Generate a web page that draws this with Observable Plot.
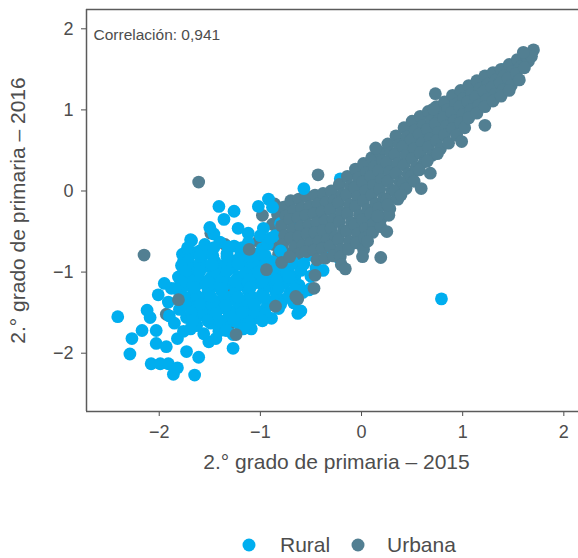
<!DOCTYPE html>
<html>
<head>
<meta charset="utf-8">
<script src="https://cdn.jsdelivr.net/npm/d3@7"></script>
<script src="https://cdn.jsdelivr.net/npm/@observablehq/plot@0.6"></script>
<style>
  body { margin: 0; background: #fff; font-family: "Liberation Sans", Arial, sans-serif; }
  #chart svg { display: block; }
</style>
</head>
<body>
<div id="chart"></div>
<script>
// ---- data (2015 score, 2016 score) ----
const grupos = ["Rural", "Urbana"];
const colores = ["#00aeef", "#527f92"];
const xTicks = [-2, -1, 0, 1, 2];
const yTicks = [-2, -1, 0, 1, 2];
const tickLabels = ["−2", "−1", "0", "1", "2"];
const correlacion = "Correlación: 0,941";
const tituloX = "2.° grado de primaria – 2015";
const tituloY = "2.° grado de primaria – 2016";

// urban schools lying inside the rural cloud (drawn beneath it)
const urbanaBajo = [
  [-2.15,-0.79],[-1.61,0.11],[-1.49,-0.52],[-1.35,-0.66],
  [-1.93,-1.52],[-1.31,-1.65],[-1.60,-1.40],[-1.30,-1.20],[-1.05,-1.10],[-1.02,-0.62],
  [-1.40,-0.95],[-0.98,-0.30],
  [-0.86,-0.16],[-0.83,-0.29],[-0.88,-0.41],[-0.84,-0.53],[-0.87,-0.66],[-0.82,-0.78],[-0.86,-0.90]
];

const rural = [
  // outer points
  [-2.41,-1.55],[-2.29,-2.01],[-2.27,-1.82],[-2.17,-1.72],[-2.12,-1.47],[-2.09,-1.56],
  [-2.08,-2.13],[-2.03,-1.72],[-2.03,-1.88],[-2.01,-1.28],[-1.99,-2.13],[-1.95,-1.14],
  [-1.93,-1.92],[-1.91,-2.13],[-1.91,-1.37],[-1.90,-1.54],[-1.88,-1.20],[-1.86,-2.26],
  [-1.85,-1.63],[-1.82,-2.18],[-1.82,-1.82],[-1.77,-0.78],[-1.76,-0.86],[-1.76,-1.73],
  [-1.74,-1.02],[-1.73,-1.98],[-1.68,-0.61],[-1.65,-2.27],[-1.61,-2.05],[-1.60,-0.74],
  [-1.51,-1.86],[-1.46,-0.53],[-1.44,-1.82],[-1.41,-0.19],[-1.36,-0.35],[-1.27,-1.94],
  [-1.26,-0.25],[-1.22,-0.46],[-1.12,-0.52],[-1.09,-1.70],[-1.06,-1.57],[-1.02,-0.19],
  [-0.97,-0.46],[-0.92,-0.10],[-0.63,-1.51],
  [-0.60,-1.48],[-0.50,-1.20],[-0.82,-1.36],[-1.00,-0.55],[-0.85,-0.55],
  [-1.69,-0.60],[-1.50,-0.45],[0.79,-1.33],
  // dense core
  [-1.55,-0.66],[-1.40,-0.63],[-1.26,-0.68],[-1.12,-0.64],
  [-1.66,-0.76],[-1.51,-0.73],[-1.33,-0.77],[-1.19,-0.74],[-1.04,-0.78],
  [-1.71,-0.86],[-1.58,-0.83],[-1.45,-0.87],[-1.31,-0.84],[-1.16,-0.88],[-1.01,-0.85],[-0.88,-0.87],
  [-1.67,-0.96],[-1.53,-0.93],[-1.40,-0.97],[-1.27,-0.94],[-1.13,-0.96],[-0.99,-0.93],[-0.85,-0.97],[-0.72,-0.95],
  [-1.81,-1.06],[-1.63,-1.03],[-1.49,-1.07],[-1.36,-1.04],[-1.22,-1.06],[-1.08,-1.03],[-0.95,-1.07],[-0.80,-1.04],[-0.66,-1.06],
  [-1.73,-1.16],[-1.59,-1.13],[-1.45,-1.17],[-1.31,-1.14],[-1.18,-1.16],[-1.04,-1.13],[-0.91,-1.17],[-0.77,-1.14],[-0.62,-1.16],
  [-1.79,-1.26],[-1.66,-1.23],[-1.52,-1.27],[-1.38,-1.24],[-1.25,-1.26],[-1.12,-1.23],[-0.98,-1.27],[-0.85,-1.24],[-0.71,-1.26],[-0.58,-1.25],
  [-1.70,-1.36],[-1.57,-1.33],[-1.43,-1.37],[-1.30,-1.34],[-1.16,-1.36],[-1.03,-1.33],[-0.90,-1.37],[-0.78,-1.34],[-0.67,-1.38],
  [-1.80,-1.46],[-1.65,-1.43],[-1.51,-1.47],[-1.37,-1.44],[-1.23,-1.46],[-1.10,-1.43],[-0.96,-1.47],[-0.82,-1.45],
  [-1.73,-1.56],[-1.59,-1.53],[-1.45,-1.57],[-1.31,-1.54],[-1.17,-1.56],[-1.03,-1.53],[-0.89,-1.57],
  [-1.63,-1.66],[-1.49,-1.63],[-1.35,-1.67],[-1.21,-1.64],
  [-1.56,-1.76],[-1.41,-1.73],[-1.27,-1.77],
  [-1.47,-0.80],[-1.20,-0.81],[-1.60,-0.90],[-1.34,-0.90],[-1.06,-0.91],[-1.46,-1.00],[-1.15,-1.01],
  [-0.88,-1.01],[-1.66,-1.10],[-1.38,-1.10],[-1.11,-1.09],[-0.84,-1.10],[-1.52,-1.20],[-1.24,-1.19],
  [-0.96,-1.20],[-1.62,-1.30],[-1.36,-1.29],[-1.09,-1.30],[-0.84,-1.30],[-1.48,-1.40],[-1.20,-1.40],
  [-0.93,-1.41],[-1.58,-1.50],[-1.30,-1.50],[-1.07,-1.50],[-1.40,-1.60],[-1.12,-1.61],
  [-1.72,-0.70],[-1.46,-0.70],[-1.32,-0.69],[-1.18,-0.70],[-0.98,-0.71],
  [-1.60,-0.80],[-1.33,-0.81],[-1.10,-0.80],[-0.95,-0.80],
  [-1.78,-0.92],[-1.48,-0.91],[-1.22,-0.90],[-0.93,-0.90],[-0.78,-0.92],
  [-1.74,-0.99],[-1.60,-1.00],[-1.33,-0.99],[-1.02,-1.00],[-0.74,-1.01],
  [-1.78,-1.12],[-1.52,-1.11],[-1.25,-1.11],[-0.98,-1.12],[-0.70,-1.10],
  [-1.84,-1.20],[-1.65,-1.19],[-1.38,-1.20],[-1.10,-1.19],[-0.82,-1.20],[-0.66,-1.21],
  [-1.75,-1.31],[-1.49,-1.30],[-1.22,-1.31],[-0.96,-1.31],[-0.72,-1.31],
  [-1.74,-1.41],[-1.60,-1.40],[-1.34,-1.41],[-1.06,-1.40],[-0.80,-1.40],
  [-1.68,-1.50],[-1.44,-1.51],[-1.18,-1.50],[-0.95,-1.52],
  [-1.67,-1.60],[-1.52,-1.60],[-1.26,-1.60],[-0.98,-1.60],
  [-1.69,-1.70],[-1.34,-1.72],[-1.17,-1.70],
  // rural schools hidden in the urban band
  [0.19,0.33],[-0.22,-0.83],[-0.50,-0.79],[1.41,1.50],
  [-0.30,-0.55],[-0.66,-0.35],[-0.80,-0.40],[-0.45,-0.95],[-0.36,-0.70]
];

// rural schools partly covered by the urban band
const ruralMedio = [[-0.21,0.15],[0.09,-0.30]];

const urbana = [
  [-0.77,-0.20],[-0.75,-0.31],[-0.79,-0.43],[-0.76,-0.55],[-0.78,-0.66],[-0.74,-0.77],
  [-0.70,-0.12],[-0.67,-0.24],[-0.71,-0.35],[-0.68,-0.47],[-0.70,-0.58],[-0.66,-0.69],
  [-0.62,-0.10],[-0.59,-0.21],[-0.63,-0.33],[-0.60,-0.44],[-0.62,-0.56],[-0.58,-0.67],[-0.63,-0.78],
  [-0.54,-0.07],[-0.51,-0.19],[-0.55,-0.30],[-0.52,-0.42],[-0.54,-0.53],[-0.50,-0.64],[-0.55,-0.75],
  [-0.46,-0.05],[-0.43,-0.16],[-0.47,-0.28],[-0.44,-0.39],[-0.46,-0.51],[-0.42,-0.62],[-0.47,-0.73],[-0.44,-0.85],
  [-0.38,-0.03],[-0.35,-0.14],[-0.39,-0.26],[-0.36,-0.37],[-0.38,-0.49],[-0.34,-0.60],[-0.39,-0.71],[-0.36,-0.83],
  [-0.30,0.00],[-0.27,-0.12],[-0.31,-0.23],[-0.28,-0.35],[-0.30,-0.46],[-0.26,-0.57],[-0.31,-0.68],[-0.28,-0.80],
  [-0.22,0.08],[-0.19,-0.04],[-0.23,-0.15],[-0.20,-0.27],[-0.22,-0.38],[-0.18,-0.49],[-0.23,-0.60],[-0.20,-0.72],[-0.21,-0.81],
  [-0.14,0.18],[-0.11,0.06],[-0.15,-0.05],[-0.12,-0.17],[-0.14,-0.28],[-0.10,-0.39],[-0.15,-0.50],[-0.12,-0.62],[-0.13,-0.72],
  [-0.06,0.27],[-0.03,0.16],[-0.07,0.04],[-0.04,-0.07],[-0.06,-0.19],[-0.02,-0.30],[-0.07,-0.42],[-0.04,-0.53],[-0.05,-0.64],
  [0.02,0.34],[0.05,0.23],[0.01,0.11],[0.04,0.00],[0.02,-0.12],[0.06,-0.23],[0.01,-0.35],[0.04,-0.46],[0.03,-0.58],
  [0.10,0.41],[0.13,0.30],[0.09,0.18],[0.12,0.07],[0.10,-0.05],[0.14,-0.16],[0.09,-0.28],[0.12,-0.40],[0.11,-0.51],
  [0.18,0.48],[0.21,0.37],[0.17,0.25],[0.20,0.14],[0.18,0.02],[0.22,-0.09],[0.17,-0.21],[0.20,-0.33],[0.19,-0.44],
  [0.26,0.58],[0.29,0.47],[0.25,0.35],[0.28,0.24],[0.26,0.12],[0.30,0.01],[0.25,-0.11],[0.28,-0.22],[0.27,-0.30],
  [0.34,0.68],[0.37,0.57],[0.33,0.45],[0.36,0.34],[0.34,0.22],[0.38,0.11],[0.33,0.00],[0.36,-0.10],
  [0.42,0.78],[0.45,0.67],[0.41,0.55],[0.44,0.44],[0.42,0.32],[0.46,0.21],[0.41,0.10],[0.44,0.03],
  [0.50,0.86],[0.53,0.75],[0.49,0.63],[0.52,0.52],[0.50,0.40],[0.54,0.29],[0.49,0.18],[0.52,0.12],
  [0.58,0.92],[0.61,0.81],[0.57,0.70],[0.60,0.59],[0.58,0.47],[0.62,0.36],[0.57,0.26],
  [0.66,0.98],[0.69,0.87],[0.65,0.76],[0.68,0.65],[0.66,0.54],[0.70,0.44],[0.65,0.37],
  [0.74,1.04],[0.77,0.94],[0.73,0.83],[0.76,0.72],[0.74,0.62],[0.78,0.52],[0.75,0.46],
  [0.82,1.10],[0.85,1.00],[0.81,0.90],[0.84,0.80],[0.82,0.69],[0.86,0.59],
  [0.90,1.18],[0.93,1.07],[0.89,0.97],[0.92,0.87],[0.90,0.77],[0.94,0.69],
  [0.98,1.24],[1.01,1.14],[0.97,1.04],[1.00,0.94],[0.98,0.84],[1.02,0.78],
  [1.06,1.30],[1.09,1.20],[1.05,1.10],[1.08,1.00],[1.06,0.90],
  [1.14,1.36],[1.17,1.26],[1.13,1.16],[1.16,1.06],[1.14,0.96],
  [1.22,1.42],[1.25,1.32],[1.21,1.23],[1.24,1.13],[1.22,1.04],
  [1.30,1.46],[1.33,1.37],[1.29,1.28],[1.32,1.19],[1.30,1.11],
  [1.38,1.50],[1.41,1.42],[1.37,1.33],[1.40,1.25],[1.38,1.17],
  [1.46,1.56],[1.49,1.47],[1.45,1.39],[1.48,1.30],[1.46,1.24],
  [1.54,1.62],[1.57,1.53],[1.53,1.45],[1.56,1.37],
  [1.62,1.68],[1.65,1.60],[1.61,1.52],
  [1.70,1.74],[1.68,1.66],[1.60,1.71],
  // outliers
  [0.73,1.20],[0.71,1.01],[1.22,0.81],[0.99,0.61],[0.59,0.03],[0.68,0.22],[0.14,0.53],
  [-0.43,0.20],[0.39,-0.05],[0.26,-0.17],[0.16,-0.31],[0.25,-0.50],[0.19,-0.82],[0.02,-0.72],
  [0.06,-0.62],[0.01,-0.81],[-0.20,-0.91],[-0.16,-0.96]
];

// rural schools drawn on top (edge of the urban band)
const ruralEncima = [
  [-0.74,-0.84],[-0.93,-0.66],[-0.50,-1.05],[-0.52,-1.22],[-0.60,-0.98],[-0.68,-0.88],
  [-0.80,-0.74],[-0.90,-0.58],[-0.72,-1.06],[-0.57,-0.90],[-0.57,0.03],
  [-0.88,-0.20],[-0.38,-0.98]
];

// urban schools drawn on top of the rural cloud
const urbanaEncima = [
  [-1.11,-0.72],[-0.94,-0.97],[-0.85,-1.42],[-1.24,-1.77],[-0.63,-1.33],[-0.47,-1.20],
  [-0.65,-1.30],[-0.79,-0.88],[-0.71,-0.81],[-0.46,-1.04],[-1.81,-1.34]
];

// ---- build table (drawing order) ----
const filas = [
  ...urbanaBajo.map(([x, y]) => ({x, y, g: grupos[1]})),
  ...rural.map(([x, y]) => ({x, y, g: grupos[0]})),
  ...ruralMedio.map(([x, y]) => ({x, y, g: grupos[0]})),
  ...urbana.map(([x, y]) => ({x, y, g: grupos[1]})),
  ...ruralEncima.map(([x, y]) => ({x, y, g: grupos[0]})),
  ...urbanaEncima.map(([x, y]) => ({x, y, g: grupos[1]}))
];

const xDom = [-2.719, 2.145];
const yDom = [-2.719, 2.238];
const axisColor = "#5b5b5b";
const textColor = "#4d4d4d";

const plot = Plot.plot({
  width: 578,
  height: 490,
  marginLeft: 86,
  marginTop: 9,
  marginRight: 0,
  marginBottom: 79,
  style: {fontFamily: "'Liberation Sans', Arial, sans-serif", fontSize: "18px", color: textColor, background: "white", overflow: "visible"},
  x: {domain: xDom, ticks: xTicks, tickFormat: d => tickLabels[xTicks.indexOf(d)], tickSize: 5, tickPadding: 9, label: null},
  y: {domain: yDom, ticks: yTicks, tickFormat: d => tickLabels[yTicks.indexOf(d)], tickSize: 5, tickPadding: 8, label: null},
  color: {domain: grupos, range: colores},
  marks: [
    Plot.dot(filas, {x: "x", y: "y", fill: "g", r: 6.4, stroke: null}),
    Plot.ruleX([xDom[0]], {stroke: axisColor, strokeWidth: 1.5}),
    Plot.ruleY([yDom[0], yDom[1]], {stroke: axisColor, strokeWidth: 1.5}),
    Plot.text([correlacion], {frameAnchor: "top-left", dx: 7, dy: 19, textAnchor: "start", fontSize: 15.5, fill: textColor}),
    Plot.text([tituloX], {frameAnchor: "bottom", dx: 4, dy: 57, textAnchor: "middle", fontSize: 21, fill: textColor}),
    Plot.text([tituloY], {frameAnchor: "left", dx: -68, rotate: -90, textAnchor: "middle", fontSize: 21, fill: textColor})
  ]
});
document.getElementById("chart").appendChild(plot);

// ---- legend below the chart ----
const ns = "http://www.w3.org/2000/svg";
const leg = document.createElementNS(ns, "svg");
leg.setAttribute("width", 578);
leg.setAttribute("height", 68);
leg.style.display = "block";
const legPos = [{cx: 249, tx: 280}, {cx: 358, tx: 387}];
grupos.forEach((g, i) => {
  const c = document.createElementNS(ns, "circle");
  c.setAttribute("cx", legPos[i].cx); c.setAttribute("cy", 55); c.setAttribute("r", 6.5);
  c.setAttribute("fill", colores[i]);
  leg.appendChild(c);
  const t = document.createElementNS(ns, "text");
  t.setAttribute("x", legPos[i].tx); t.setAttribute("y", 62);
  t.setAttribute("font-size", 21); t.setAttribute("fill", textColor);
  t.setAttribute("font-family", "'Liberation Sans', Arial, sans-serif");
  t.textContent = g;
  leg.appendChild(t);
});
document.getElementById("chart").appendChild(leg);
</script>
</body>
</html>
